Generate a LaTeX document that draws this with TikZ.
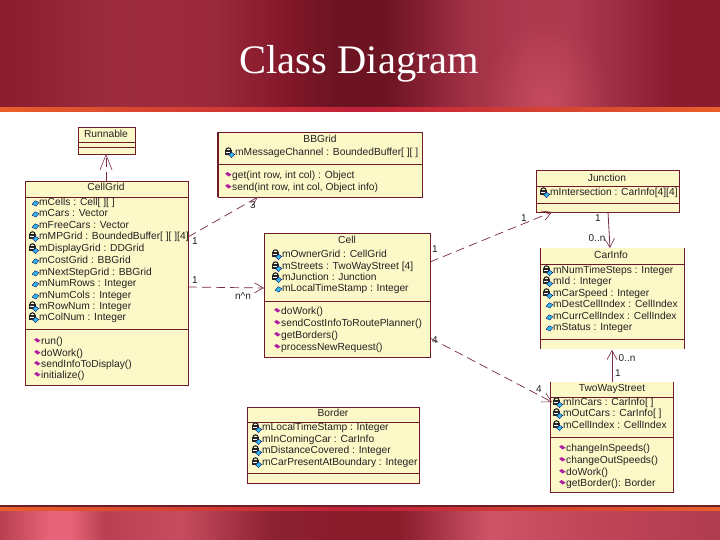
\documentclass[tikz,border=0pt]{standalone}
\usepackage{fontspec}
\setmainfont{Liberation Sans}
\newfontfamily\titlefont{Liberation Serif}
\usetikzlibrary{arrows.meta,fadings}
\tikzfading[name=softspot,inner color=transparent!0,outer color=transparent!100]
\definecolor{bandA}{HTML}{8A1C30}
\definecolor{bandB}{HTML}{9C2C3E}
\definecolor{bandC}{HTML}{9A2A3C}
\definecolor{bandD}{HTML}{84182A}
\definecolor{bandE}{HTML}{6C1422}
\definecolor{bandF}{HTML}{8A2236}
\definecolor{bandG}{HTML}{A23246}
\definecolor{bandH}{HTML}{AE3A50}
\definecolor{bandI}{HTML}{A03045}
\definecolor{lowA}{HTML}{B8404F}
\definecolor{lowB}{HTML}{E86478}
\definecolor{lowC}{HTML}{B84050}
\definecolor{lowD}{HTML}{C84C60}
\definecolor{lowE}{HTML}{8C2232}
\definecolor{lowF}{HTML}{8A1C2C}
\definecolor{lowG}{HTML}{A83648}
\definecolor{lowH}{HTML}{D05468}
\definecolor{lowI}{HTML}{C04458}
\definecolor{lowJ}{HTML}{B03C50}
\definecolor{lineO}{HTML}{E8602A}
\definecolor{lineR}{HTML}{C0203A}
\definecolor{lineD}{HTML}{6A2028}
\definecolor{boxfill}{HTML}{FDF8C8}
\definecolor{boxline}{HTML}{6E1A2A}
\definecolor{conn}{HTML}{7A2A44}
\definecolor{pubcol}{HTML}{35B5E5}
\definecolor{opcol}{HTML}{B020A0}
\definecolor{inktext}{HTML}{222222}
\tikzset{
  x=1pt,y=-1pt,
  umlbox/.style={draw=boxline,fill=boxfill,line width=0.9pt,inner sep=0,minimum width=#1},
  rowtext/.style={anchor=west,inner sep=0,text height=7.5pt,text depth=2pt,text=inktext,font=\fontsize{10.25}{12}\selectfont},
  titletext/.style={inner sep=0,text height=7.5pt,text depth=2pt,text=inktext,font=\fontsize{10.25}{12}\selectfont},
  assoc/.style={conn,line width=0.7pt,dash pattern=on 9pt off 5pt},
  openhead/.style={-{Straight Barb[length=9pt,width=10pt,line width=0.6pt]}},
  bighead/.style={-{Straight Barb[length=15pt,width=12pt,line width=0.6pt]}},
  mult/.style={inner sep=0,text=inktext,font=\fontsize{10}{11}\selectfont},
  pubicon/.pic={\fill[pubcol,draw=black!60!blue,line width=0.3pt] (-3.4,0.8)--(-0.4,-2.8)--(3.4,-1)--(0.4,2.6)--cycle;},
  privicon/.pic={
    \draw[black!85,line width=1.1pt] (-5.6,-2.6) arc[start angle=180,end angle=360,radius=2.6];
    \fill[black!85] (-7,-2.6) rectangle (0.2,2.2);
    \fill[white] (-6,-0.7) rectangle (-1.2,-0.1);
    \fill[pubcol,draw=black!60!blue,line width=0.3pt] (-3,2)--(0,-0.8)--(3.2,1.4)--(0.2,4.6)--cycle;},
  opicon/.pic={\fill[opcol] (-3.4,-1.2)--(-1,-3)--(3,-0.4)--(0.2,1.6)--cycle;}
}
\newcommand{\pubrow}[4]{\pic at (#2-3.5,#3+0.5) {pubicon}; \node[rowtext,name=#1] at (#2,#3) {#4};}
\newcommand{\privrow}[4]{\pic at (#2-3.5,#3) {privicon}; \node[rowtext,name=#1] at (#2,#3) {#4};}
\newcommand{\oprow}[4]{\pic at (#2-3.5,#3-1) {opicon}; \node[rowtext,name=#1] at (#2,#3) {#4};}
\newcommand{\umlbox}[5]{\node[umlbox=#4-#2,minimum height=#5-#3,name=#1] at ({(#2+#4)/2},{(#3+#5)/2}) {};}
\begin{document}
\begin{tikzpicture}
\useasboundingbox (0,0) rectangle (720,540);
\fill[white] (0,0) rectangle (720,540);
% banners
\foreach \xa/\xb/\ca/\cb in {0/110/bandA/bandB,110/210/bandB/bandC,210/285/bandC/bandD,285/335/bandD/bandE,335/385/bandE/bandE,385/430/bandE/bandF,430/470/bandF/bandG,470/530/bandG/bandH,530/565/bandH/bandH,565/610/bandH/bandI,610/670/bandI/bandA,670/720/bandA/bandA}{
  \shade[left color=\ca,right color=\cb] (\xa,0) rectangle (\xb+0.3,108);
}
\begin{scope}
\clip (0,0) rectangle (720,108);
\fill[lowB,opacity=0.4,path fading=softspot] (480,20) rectangle (610,180);
\end{scope}
\foreach \xa/\xb/\ca/\cb in {0/50/lowA/lowB,50/70/lowB/lowB,70/105/lowB/lowC,105/180/lowC/lowD,180/270/lowD/lowE,270/340/lowE/lowF,340/400/lowF/lowF,400/440/lowF/lowG,440/490/lowG/lowH,490/600/lowH/lowI,600/720/lowI/lowJ}{
  \shade[left color=\ca,right color=\cb] (\xa,509) rectangle (\xb+0.3,540);
}
\shade[left color=lineO,right color=lineR] (0,108) rectangle (360,112);
\shade[left color=lineR,right color=lineO] (360,108) rectangle (720,112);
\fill[lineD] (0,505) rectangle (720,507);
\shade[left color=lineO,right color=lineR] (0,507) rectangle (360,510);
\shade[left color=lineR,right color=lineO] (360,507) rectangle (720,510);
\node[inner sep=0,text=white,font=\titlefont\fontsize{40.5}{44}\selectfont,name=slidetitle] at (359.5,63.5) {Class Diagram};
% Runnable
\umlbox{runnable}{78}{127}{135}{154}
\node[titletext,name=runnableT] at (106,135) {Runnable};
\draw[boxline,line width=0.8pt] (78,142)--(135,142) (78,147)--(135,147);
% CellGrid
\umlbox{cellgrid}{25}{181}{188}{385}
\node[titletext,name=cellgridT] at (106,188) {CellGrid};
\draw[boxline,line width=0.8pt] (25,197)--(188,197) (25,329)--(188,329);
\pubrow{cg1}{39}{203}{mCells : Cell[ ][ ]}
\pubrow{cg2}{39}{214}{mCars : Vector}
\pubrow{cg3}{39}{226}{mFreeCars : Vector}
\privrow{cg4}{39}{237}{mMPGrid : BoundedBuffer[ ][ ][4]}
\privrow{cg5}{39}{249}{mDisplayGrid : DDGrid}
\pubrow{cg6}{39}{261}{mCostGrid : BBGrid}
\pubrow{cg7}{39}{273}{mNextStepGrid : BBGrid}
\pubrow{cg8}{39}{284}{mNumRows : Integer}
\pubrow{cg9}{39}{296}{mNumCols : Integer}
\privrow{cg10}{39}{307}{mRowNum : Integer}
\privrow{cg11}{39}{318}{mColNum : Integer}
\oprow{cg12}{41}{342}{run()}
\oprow{cg13}{41}{354}{doWork()}
\oprow{cg14}{41}{365}{sendInfoToDisplay()}
\oprow{cg15}{41}{376}{initialize()}
% BBGrid
\umlbox{bbgrid}{218}{132}{422}{197}
\node[titletext,name=bbgridT] at (320,140) {BBGrid};
\draw[boxline,line width=0.8pt] (218,164)--(422,164);
\draw[boxline,line width=1.4pt] (bbgrid.north west)--(bbgrid.south west);
\privrow{bb1}{235}{153}{mMessageChannel : BoundedBuffer[ ][ ]}
\oprow{bb2}{232}{176}{get(int row, int col) : Object}
\oprow{bb3}{232}{188}{send(int row, int col, Object info)}
% Cell
\umlbox{cell}{264}{233}{430}{357}
\node[titletext,name=cellT] at (347,241) {Cell};
\draw[boxline,line width=0.8pt] (264,301)--(430,301);
\privrow{ce1}{282}{255}{mOwnerGrid : CellGrid}
\privrow{ce2}{282}{267}{mStreets : TwoWayStreet [4]}
\privrow{ce3}{282}{278}{mJunction : Junction}
\pubrow{ce4}{282}{289}{mLocalTimeStamp : Integer}
\oprow{ce5}{281}{312}{doWork()}
\oprow{ce6}{281}{324}{sendCostInfoToRoutePlanner()}
\oprow{ce7}{281}{336}{getBorders()}
\oprow{ce8}{281}{348}{processNewRequest()}
% Junction
\umlbox{junction}{536}{170}{679}{212}
\node[titletext,name=junctionT] at (607,179) {Junction};
\draw[boxline,line width=0.8pt] (536,186)--(679,186) (536,203)--(679,203);
\privrow{ju1}{550}{193}{mIntersection : CarInfo[4][4]}
% CarInfo
\fill[boxfill] (541,248) rectangle (684,349);
\node[inner sep=0,minimum width=143,minimum height=101,name=carinfo] at (612.5,298.5) {};
\draw[boxline,line width=0.8pt] (carinfo.north west)--(carinfo.south west) (carinfo.north east)--(carinfo.south east);
\draw[boxline,line width=0.8pt] (541,264)--(684,264) (541,339)--(684,339);
\node[titletext,name=carinfoT] at (611,256) {CarInfo};
\privrow{ca1}{553}{271}{mNumTimeSteps : Integer}
\privrow{ca2}{553}{282}{mId : Integer}
\privrow{ca3}{553}{294}{mCarSpeed : Integer}
\pubrow{ca4}{553}{305}{mDestCellIndex : CellIndex}
\pubrow{ca5}{553}{317}{mCurrCellIndex : CellIndex}
\pubrow{ca6}{553}{328}{mStatus : Integer}
% TwoWayStreet
\fill[boxfill] (551,382) rectangle (673,492);
\node[inner sep=0,minimum width=122,minimum height=110,name=twoway] at (612,437) {};
\draw[boxline,line width=0.9pt] (twoway.north west)--(twoway.south west)--(twoway.south east)--(twoway.north east);
\draw[boxline,line width=0.8pt] (551,397)--(673,397) (551,437)--(673,437);
\node[titletext,name=twowayT] at (612,389) {TwoWayStreet};
\privrow{tw1}{563}{403}{mInCars : CarInfo[ ]}
\privrow{tw2}{563}{414}{mOutCars : CarInfo[ ]}
\privrow{tw3}{563}{426}{mCellIndex : CellIndex}
\oprow{tw4}{566}{449}{changeInSpeeds()}
\oprow{tw5}{566}{461}{changeOutSpeeds()}
\oprow{tw6}{566}{473}{doWork()}
\oprow{tw7}{566}{484}{getBorder(): Border}
% Border
\umlbox{border}{247}{407}{419}{483}
\node[titletext,name=borderT] at (333,414) {Border};
\draw[boxline,line width=0.8pt] (247,422)--(419,422) (247,473)--(419,473);
\privrow{bo1}{262}{428}{mLocalTimeStamp : Integer}
\privrow{bo2}{262}{440}{mInComingCar : CarInfo}
\privrow{bo3}{262}{451}{mDistanceCovered : Integer}
\privrow{bo4}{262}{463}{mCarPresentAtBoundary : Integer}
% connector ends
\coordinate (cgA) at (188,237);
\coordinate (cgB) at (188,287);
\coordinate (bbA) at (258,197);
\coordinate (ceW) at (264,288);
\coordinate (ceA) at (430,262);
\coordinate (ceB) at (430,338);
\coordinate (juA) at (552,212);
\coordinate (juB) at (608,212);
\coordinate (caT) at (610,248);
\coordinate (caB) at (612,350);
\coordinate (twT) at (612,382);
\coordinate (twA) at (552,402);
\coordinate (cgT) at (106,181);
\coordinate (ruB) at (106,154);
% connectors
\draw[assoc,bighead] (cgT)--(ruB);
\draw[assoc,openhead] (cgA)--(bbA);
\draw[assoc,openhead] (cgB)--(ceW);
\draw[assoc,openhead] (ceA)--(juA);
\draw[assoc,openhead] (ceB)--(twA);
\draw[conn,line width=0.8pt,openhead] (juB)--(caT);
\draw[conn,line width=0.8pt,openhead] (twT)--(caB);
% multiplicities
\node[mult,name=m1] at (195,241) {1};
\node[mult,name=m2] at (253,205) {3};
\node[mult,name=m3] at (195,280) {1};
\node[mult,name=m4] at (243,296) {n\char`\^n};
\node[mult,name=m5] at (435,249) {1};
\node[mult,name=m6] at (524,218) {1};
\node[mult,name=m7] at (435,340) {4};
\node[mult,name=m8] at (539,389) {4};
\node[mult,name=m9] at (598,218) {1};
\node[mult,name=m10] at (597,238) {0..n};
\node[mult,name=m11] at (627,358) {0..n};
\node[mult,name=m12] at (618,373) {1};
\end{tikzpicture}
\end{document}
